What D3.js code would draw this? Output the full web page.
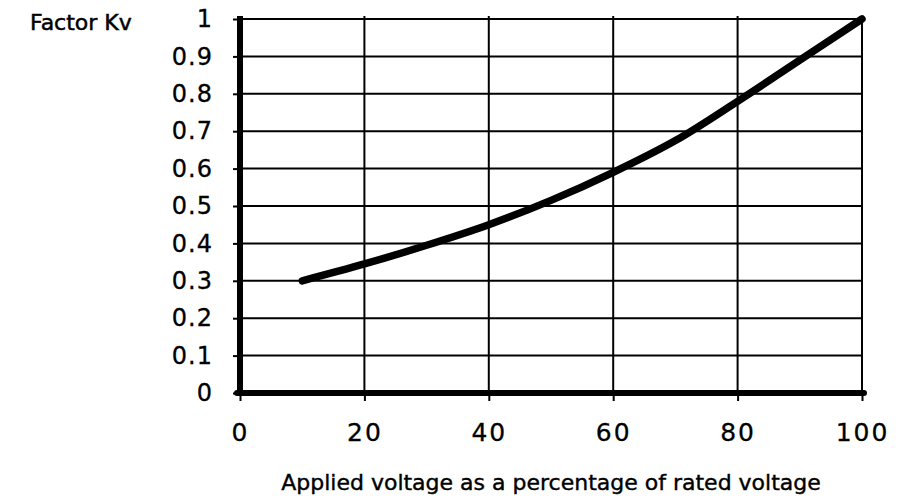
<!DOCTYPE html>
<html>
<head>
<meta charset="utf-8">
<script src="https://cdn.jsdelivr.net/npm/d3@7/dist/d3.min.js"></script>
<style>
body { margin: 0; background: #fff; }
text { font-family: "DejaVu Sans", sans-serif; fill: #000; }
</style>
</head>
<body>
<svg id="chart" width="900" height="502"></svg>
<script>
// 数据
var voltage = [10, 20, 30, 40, 50, 60, 70, 80, 90, 100];
var factorKv = [0.30, 0.345, 0.395, 0.45, 0.515, 0.59, 0.675, 0.78, 0.89, 1.0];
var xTicks = [0, 20, 40, 60, 80, 100];
var yTicks = [0, 0.1, 0.2, 0.3, 0.4, 0.5, 0.6, 0.7, 0.8, 0.9, 1];

var svg = d3.select("#chart");
var x = d3.scaleLinear().domain([0, 100]).range([240, 862]);
var y = d3.scaleLinear().domain([0, 1]).range([393, 19]);

// 网格
var grid = svg.append("g");
grid.selectAll("line.h").data(yTicks.slice(1)).enter().append("line")
	.attr("x1", x(0)).attr("x2", x(100))
	.attr("y1", function(d) { return y(d); }).attr("y2", function(d) { return y(d); })
	.attr("stroke", "#000").attr("stroke-width", 2);
grid.selectAll("line.v").data(xTicks.slice(1)).enter().append("line")
	.attr("y1", y(0)).attr("y2", y(1) - 3)
	.attr("x1", function(d) { return x(d); }).attr("x2", function(d) { return x(d); })
	.attr("stroke", "#000").attr("stroke-width", 2);

// 坐标轴
var yAxis = svg.append("g").attr("transform", "translate(" + x(0) + ",0)")
	.call(d3.axisLeft(y).tickValues(yTicks).tickSize(7).tickPadding(20).tickFormat(function(d) { return d3.format("")(+d.toFixed(1)); }));
var xAxis = svg.append("g").attr("transform", "translate(0," + y(0) + ")")
	.call(d3.axisBottom(x).tickValues(xTicks).tickSize(8).tickPadding(22));
[xAxis, yAxis].forEach(function(a) {
	a.attr("font-size", null).attr("font-family", null);
	a.select(".domain").remove();
	a.selectAll(".tick line").attr("stroke", "#000").attr("stroke-width", 2);
	a.selectAll(".tick text").style("font-size", "24px").style("letter-spacing", "1px")
		.attr("fill", "#000").attr("stroke", "#000").attr("stroke-width", 0.3);
});
xAxis.selectAll(".tick text").style("font-size", "25px").style("letter-spacing", "2px");

svg.append("line").attr("x1", x(0)).attr("x2", x(0)).attr("y1", y(1) - 3).attr("y2", y(0) + 3)
	.attr("stroke", "#000").attr("stroke-width", 6);
svg.append("line").attr("x1", x(0) - 3).attr("x2", x(100) + 2).attr("y1", y(0)).attr("y2", y(0))
	.attr("stroke", "#000").attr("stroke-width", 6).attr("stroke-linecap", "round");

// 曲线
var line = d3.line()
	.x(function(d, i) { return x(voltage[i]); })
	.y(function(d) { return y(d); })
	.curve(d3.curveCatmullRom.alpha(0.5));
svg.append("path").datum(factorKv).attr("d", line)
	.attr("fill", "none").attr("stroke", "#000").attr("stroke-width", 7.5).attr("stroke-linecap", "round");

// 标题
svg.append("text").attr("x", 30).attr("y", 30).style("font-size", "22px")
	.attr("stroke", "#000").attr("stroke-width", 0.5).text("Factor Kv");
svg.append("text").attr("x", 551).attr("y", 490).attr("text-anchor", "middle").style("font-size", "22px")
	.attr("stroke", "#000").attr("stroke-width", 0.4)
	.text("Applied voltage as a percentage of rated voltage");
</script>
</body>
</html>
